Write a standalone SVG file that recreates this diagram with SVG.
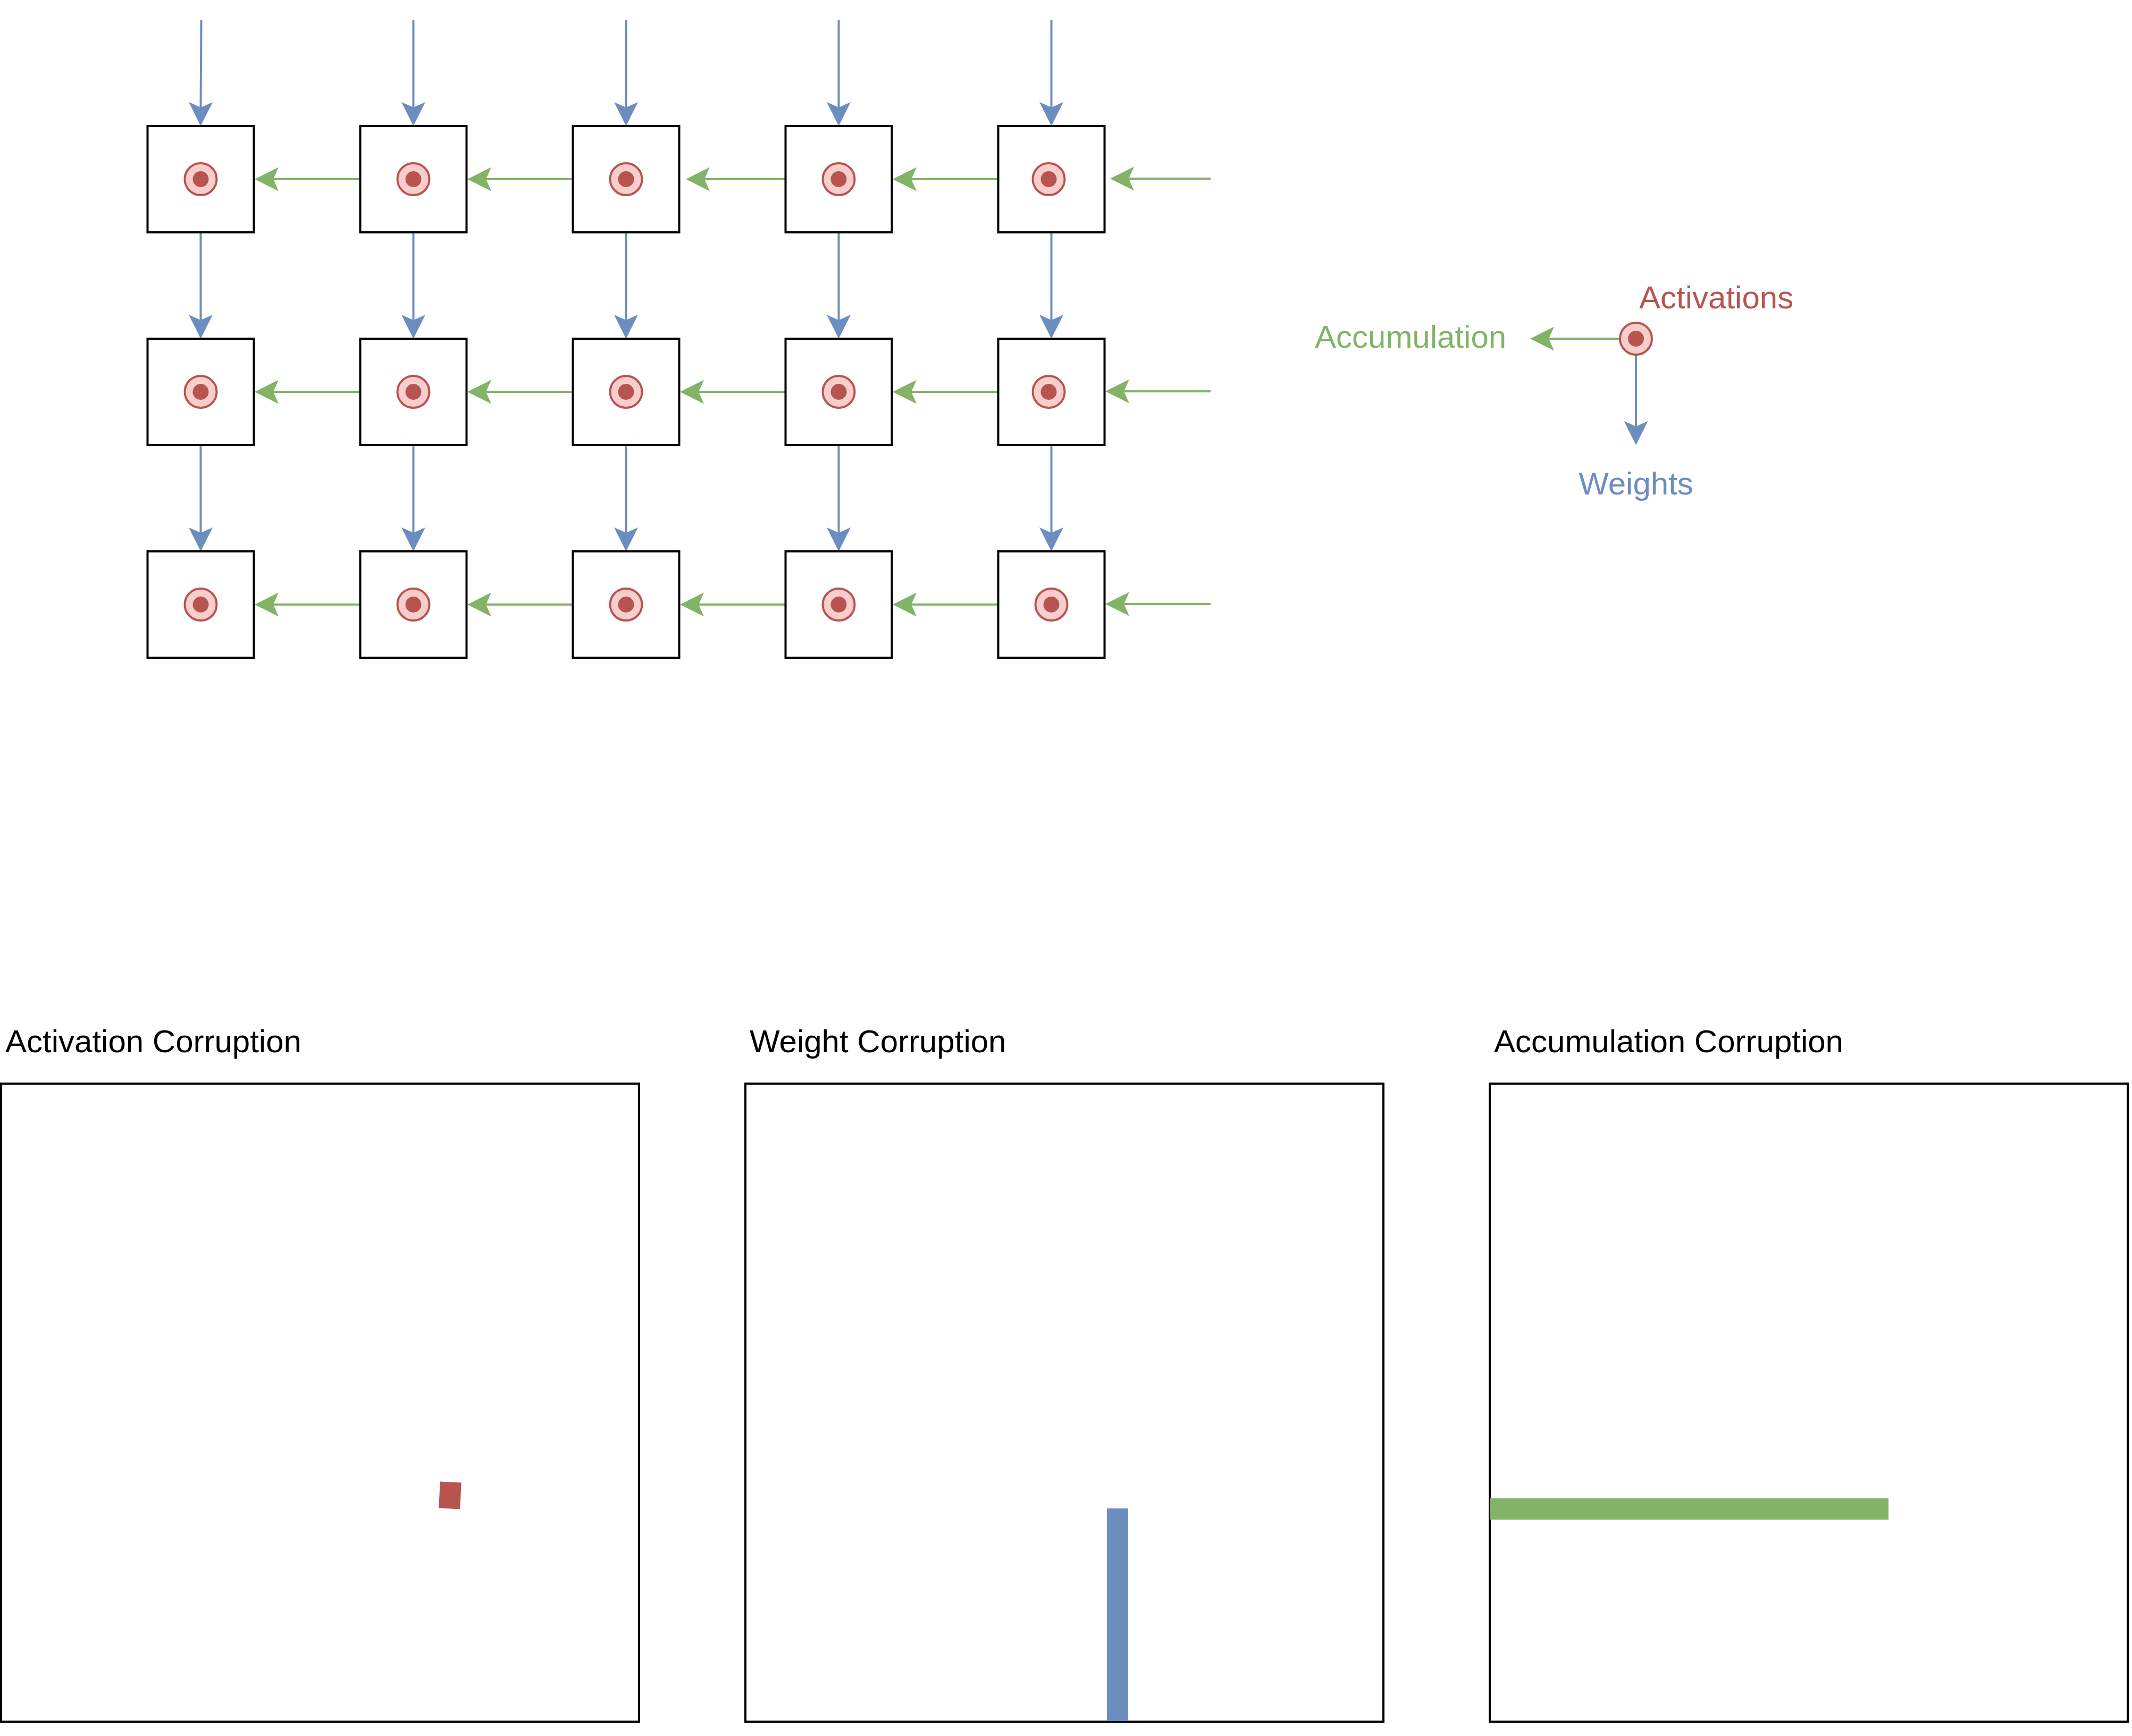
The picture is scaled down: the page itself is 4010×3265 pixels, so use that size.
<svg xmlns="http://www.w3.org/2000/svg" width="4010" height="3265" viewBox="0 0 4010 3265">
<style>
.pe{fill:#ffffff;stroke:#000000;stroke-width:4}
.ring{fill:#f8cecc;stroke:#b85450;stroke-width:4}
.dot{fill:#b85450;stroke:none}
.w{fill:none;stroke:#6c8ebf;stroke-width:4}
.a{fill:none;stroke:#82b366;stroke-width:4}
.wm{marker-end:url(#hb)}
.am{marker-end:url(#hg)}
.lbl{font-family:"Liberation Sans",Arial,sans-serif;font-size:60px}
.panel{fill:none;stroke:#000000;stroke-width:4}
</style>
<defs>
<marker id="hb" markerUnits="userSpaceOnUse" viewBox="-15 -25 55 50" markerWidth="55" markerHeight="50" refX="0" refY="0" orient="auto" overflow="visible">
<polygon points="35,0 -10,-22.5 0,0 -10,22.5" fill="#6c8ebf"/>
</marker>
<marker id="hg" markerUnits="userSpaceOnUse" viewBox="-15 -25 55 50" markerWidth="55" markerHeight="50" refX="0" refY="0" orient="auto" overflow="visible">
<polygon points="35,0 -10,-22.5 0,0 -10,22.5" fill="#82b366"/>
</marker>
</defs>
<rect x="0" y="0" width="4010" height="3265" fill="#ffffff"/>

<g id="connectors">
<!-- weights, top inputs -->
<path class="w wm" d="M378.5,38 L377.5,202"/>
<path class="w wm" d="M777.5,38 L777.5,202"/>
<path class="w wm" d="M1177.5,38 L1177.5,202"/>
<path class="w wm" d="M1577.5,38 L1577.5,202"/>
<path class="w wm" d="M1977.5,38 L1977.5,202"/>
<!-- weights row1 -> row2 -->
<path class="w wm" d="M377.5,437 L377.5,602"/>
<path class="w wm" d="M777.5,437 L777.5,602"/>
<path class="w wm" d="M1177.5,437 L1177.5,602"/>
<path class="w wm" d="M1577.5,437 L1577.5,602"/>
<path class="w wm" d="M1977.5,437 L1977.5,602"/>
<!-- weights row2 -> row3 -->
<path class="w wm" d="M377.5,837 L377.5,1002"/>
<path class="w wm" d="M777.5,837 L777.5,1002"/>
<path class="w wm" d="M1177.5,837 L1177.5,1002"/>
<path class="w wm" d="M1577.5,837 L1577.5,1002"/>
<path class="w wm" d="M1977.5,837 L1977.5,1002"/>
<!-- accumulation row 1 -->
<path class="a am" d="M677.5,337 L514,337"/>
<path class="a am" d="M1077.5,337 L914,337"/>
<path class="a am" d="M1477.5,337 L1325,337"/>
<path class="a am" d="M1877.5,337 L1714,337"/>
<path class="a am" d="M2277,336 L2123,336"/>
<!-- accumulation row 2 -->
<path class="a am" d="M677.5,737 L514,737"/>
<path class="a am" d="M1077.5,737 L914,737"/>
<path class="a am" d="M1477.5,737 L1314,737"/>
<path class="a am" d="M1877.5,737 L1714,737"/>
<path class="a am" d="M2277,736 L2114,736"/>
<!-- accumulation row 3 -->
<path class="a am" d="M677.5,1137 L514,1137"/>
<path class="a am" d="M1077.5,1137 L914,1137"/>
<path class="a am" d="M1477.5,1137 L1314,1137"/>
<path class="a am" d="M1877.5,1137 L1714,1137"/>
<path class="a am" d="M2277,1136 L2114,1136"/>
<!-- legend -->
<path class="a am" d="M3047,637 L2913,637"/>
<path class="w wm" d="M3077,667 L3077,802"/>
</g>

<!-- row 1 -->
<g id="pe-1-1"><rect class="pe" x="277.5" y="237" width="200" height="200"/><circle class="ring" cx="377.5" cy="337" r="30"/><circle class="dot" cx="377.5" cy="337" r="15"/></g>
<g id="pe-1-2"><rect class="pe" x="677.5" y="237" width="200" height="200"/><circle class="ring" cx="777.5" cy="337" r="30"/><circle class="dot" cx="777.5" cy="337" r="15"/></g>
<g id="pe-1-3"><rect class="pe" x="1077.5" y="237" width="200" height="200"/><circle class="ring" cx="1177.5" cy="337" r="30"/><circle class="dot" cx="1177.5" cy="337" r="15"/></g>
<g id="pe-1-4"><rect class="pe" x="1477.5" y="237" width="200" height="200"/><circle class="ring" cx="1577.5" cy="337" r="30"/><circle class="dot" cx="1577.5" cy="337" r="15"/></g>
<g id="pe-1-5"><rect class="pe" x="1877.5" y="237" width="200" height="200"/><circle class="ring" cx="1972.5" cy="337" r="30"/><circle class="dot" cx="1972.5" cy="337" r="15"/></g>
<!-- row 2 -->
<g id="pe-2-1"><rect class="pe" x="277.5" y="637" width="200" height="200"/><circle class="ring" cx="377.5" cy="737" r="30"/><circle class="dot" cx="377.5" cy="737" r="15"/></g>
<g id="pe-2-2"><rect class="pe" x="677.5" y="637" width="200" height="200"/><circle class="ring" cx="777.5" cy="737" r="30"/><circle class="dot" cx="777.5" cy="737" r="15"/></g>
<g id="pe-2-3"><rect class="pe" x="1077.5" y="637" width="200" height="200"/><circle class="ring" cx="1177.5" cy="737" r="30"/><circle class="dot" cx="1177.5" cy="737" r="15"/></g>
<g id="pe-2-4"><rect class="pe" x="1477.5" y="637" width="200" height="200"/><circle class="ring" cx="1577.5" cy="737" r="30"/><circle class="dot" cx="1577.5" cy="737" r="15"/></g>
<g id="pe-2-5"><rect class="pe" x="1877.5" y="637" width="200" height="200"/><circle class="ring" cx="1972.5" cy="737" r="30"/><circle class="dot" cx="1972.5" cy="737" r="15"/></g>
<!-- row 3 -->
<g id="pe-3-1"><rect class="pe" x="277.5" y="1037" width="200" height="200"/><circle class="ring" cx="377.5" cy="1137" r="30"/><circle class="dot" cx="377.5" cy="1137" r="15"/></g>
<g id="pe-3-2"><rect class="pe" x="677.5" y="1037" width="200" height="200"/><circle class="ring" cx="777.5" cy="1137" r="30"/><circle class="dot" cx="777.5" cy="1137" r="15"/></g>
<g id="pe-3-3"><rect class="pe" x="1077.5" y="1037" width="200" height="200"/><circle class="ring" cx="1177.5" cy="1137" r="30"/><circle class="dot" cx="1177.5" cy="1137" r="15"/></g>
<g id="pe-3-4"><rect class="pe" x="1477.5" y="1037" width="200" height="200"/><circle class="ring" cx="1577.5" cy="1137" r="30"/><circle class="dot" cx="1577.5" cy="1137" r="15"/></g>
<g id="pe-3-5"><rect class="pe" x="1877.5" y="1037" width="200" height="200"/><circle class="ring" cx="1977.5" cy="1137" r="30"/><circle class="dot" cx="1977.5" cy="1137" r="15"/></g>

<!-- legend -->
<g id="legend-node"><circle class="ring" cx="3077" cy="637" r="30"/><circle class="dot" cx="3077" cy="637" r="15"/></g>
<g id="legend-activations"><text class="lbl" x="3083" y="580" fill="#b85450">Activations</text></g>
<g id="legend-accumulation"><text class="lbl" x="2473" y="654" fill="#82b366">Accumulation</text></g>
<g id="legend-weights"><text class="lbl" x="3077" y="930" fill="#6c8ebf" text-anchor="middle">Weights</text></g>

<!-- corruption panels -->
<g id="panel-activation">
<text class="lbl" x="10" y="1979" fill="#000000">Activation Corruption</text>
<rect class="panel" x="2" y="2038" width="1200" height="1200"/>
<rect x="-20" y="-25" width="40" height="50" fill="#b85450" transform="translate(846.5,2812.4) rotate(2.9)"/>
</g>
<g id="panel-weight">
<text class="lbl" x="1410" y="1979" fill="#000000">Weight Corruption</text>
<rect class="panel" x="1402" y="2038" width="1200" height="1200"/>
<rect x="2082" y="2837" width="40" height="400" fill="#6c8ebf"/>
</g>
<g id="panel-accumulation">
<text class="lbl" x="2810" y="1979" fill="#000000">Accumulation Corruption</text>
<rect class="panel" x="2802" y="2038" width="1200" height="1200"/>
<rect x="2802" y="2818" width="750" height="40" fill="#82b366"/>
</g>
</svg>
